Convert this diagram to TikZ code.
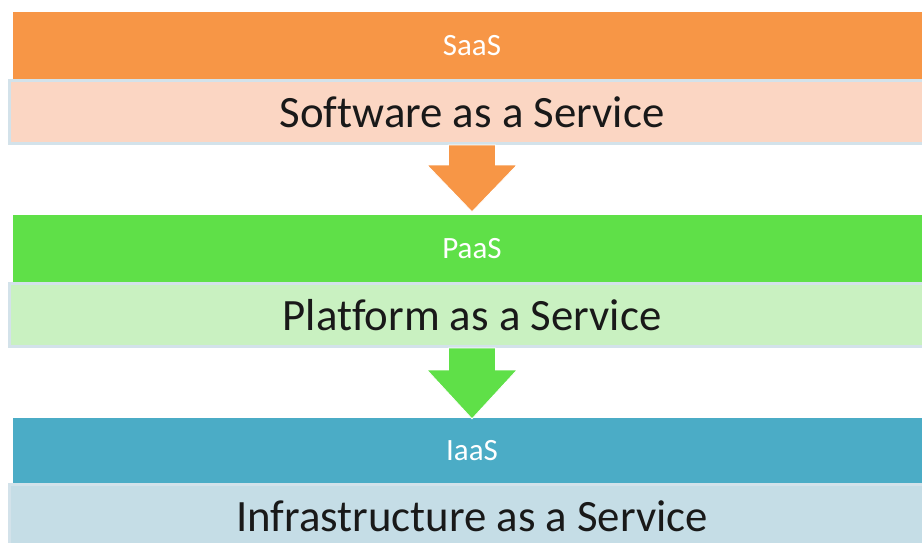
\documentclass[tikz,border=0pt]{standalone}
\usepackage{fontspec}
\setmainfont{Carlito}[Ligatures=NoCommon]
\usetikzlibrary{calc}

\definecolor{saasorange}{HTML}{F79646}
\definecolor{saaslight}{HTML}{FBD6C3}
\definecolor{paasgreen}{HTML}{5FE048}
\definecolor{paaslight}{HTML}{C9F1C1}
\definecolor{iaasblue}{HTML}{4BACC6}
\definecolor{iaaslight}{HTML}{C5DDE6}
\definecolor{boxedge}{HTML}{D3E2EA}

\tikzset{
	band/.style={minimum width=918pt, minimum height=67pt, inner sep=0pt, text=white, font=\fontsize{31}{36}\selectfont},
	layerbox/.style={draw=boxedge, line width=3pt, minimum width=925pt, minimum height=63pt, inner sep=0pt, text=black!90, font=\fontsize{44.8}{52}\selectfont},
	blockarrow/.style={draw=white, line width=0.8pt},
}

\begin{document}
\begin{tikzpicture}[x=1pt, y=-1pt]
		\useasboundingbox (0, 0) rectangle (922, 543);
		\clip (0, 0) rectangle (922, 543);
		% three layers, top to bottom
		\node[band, fill=saasorange] (saas) at (472, 45.5) {SaaS};
		\node[layerbox, fill=saaslight] (saas_box) at (472, 112) {Software as a Service};
		\node[band, fill=paasgreen] (paas) at (472, 248.5) {PaaS};
		\node[layerbox, fill=paaslight] (paas_box) at (472, 315) {Platform as a Service};
		\node[band, fill=iaasblue, minimum height=65pt] (iaas) at (472, 450.5) {IaaS};
		\node[layerbox, fill=iaaslight] (iaas_box) at (472, 516) {Infrastructure as a Service};
		% block arrows between the layers
		\filldraw[blockarrow, fill=saasorange] ($(saas_box.south)+(-23.5, 0)$) -- ++(0, 20) -- ++(-21.5, 0)
			-- ($(paas.north)+(0, -3)$) -- ($(saas_box.south)+(45, 20)$) -- ++(-21.5, 0) -- ++(0, -20) -- cycle;
		\filldraw[blockarrow, fill=paasgreen] ($(paas_box.south)+(-23.5, 0)$) -- ++(0, 22) -- ++(-21.5, 0)
			-- ($(iaas.north)+(0, 1)$) -- ($(paas_box.south)+(45, 22)$) -- ++(-21.5, 0) -- ++(0, -22) -- cycle;
	\end{tikzpicture}
\end{document}
